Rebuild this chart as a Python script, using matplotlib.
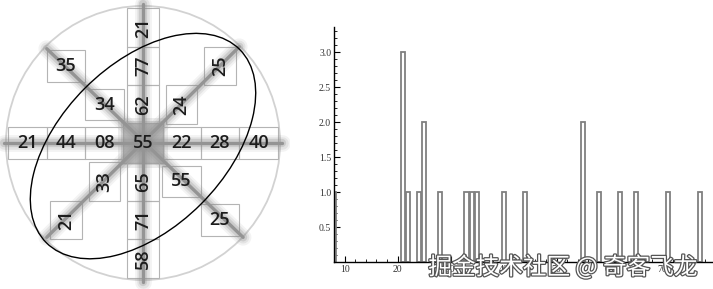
import matplotlib
matplotlib.use("Agg")
import matplotlib.pyplot as plt
import matplotlib.patheffects as pe
from matplotlib.patches import Rectangle, Circle, Ellipse
import numpy as np

# diagram numbers along each arm
ROW = ["21", "44", "08", "55", "22", "28", "40"]          # horizontal arm, left -> right
COL = ["58", "71", "65", None, "62", "77", "21"]          # vertical arm, bottom -> top (centre shared)
DIAG_DOWN_LABELS = ["35", "34", "55", "25"]               # NW -> SE, centre skipped
DIAG_DOWN_IDX = [-2, -1, 1, 2]
DIAG_UP_LABELS = ["21", "33", "24", "25"]                 # SW -> NE, centre skipped
DIAG_UP_IDX = [-2, -1, 1, 2]

# histogram of the diagram values
HIST_VALUES = [8, 21, 22, 24, 25, 28, 33, 34, 35, 40, 44, 55, 58, 62, 65, 71, 77]
HIST_COUNTS = [1, 3, 1, 1, 2, 1, 1, 1, 1, 1, 1, 2, 1, 1, 1, 1, 1]

fig = plt.figure(figsize=(7.13, 2.89), dpi=100)

# ---------------- left: cross diagram ----------------
ax = fig.add_axes([0, 0, 290 / 713, 1])
U = 38.5
ax.set_xlim(-143 / U, 147 / U)
ax.set_ylim(-146 / U, 143 / U)
ax.set_aspect("equal", adjustable="datalim")
ax.axis("off")

ax.add_patch(Circle((0, 0), 3.56, fill=False, ec="#d2d2d2", lw=1.3, zorder=1))

FONT = dict(family="Open Sans", fontsize=13, fontweight="semibold",
            color="#1c1c1c", ha="center", va="center", zorder=6)
SHORT = 0.83


def box(x, y, w, h):
    ax.add_patch(Rectangle((x - w / 2, y - h / 2), w, h, fill=False,
                           ec="#b4b4b4", lw=0.8, zorder=2))


# centre cell, soft grey
for s, a in [(1.3, 0.25), (1.15, 0.45)]:
    ax.add_patch(Rectangle((-s / 2, -s / 2), s, s, fc="#b0b0b0", ec="none",
                           alpha=a, zorder=2))
ax.add_patch(Rectangle((-0.52, -0.52), 1.04, 1.04, fc="#b4b4b4", ec="#a0a0a0",
                       lw=0.8, alpha=0.8, zorder=2))


# thick blurred arms
def arm(p0, p1):
    xs, ys = [p0[0], p1[0]], [p0[1], p1[1]]
    for lw, a in [(12, 0.10), (9, 0.15), (6, 0.25)]:
        ax.plot(xs, ys, color="#8a8a8a", lw=lw, alpha=a,
                solid_capstyle="round", zorder=3)
    ax.plot(xs, ys, color="#949494", lw=2.4, zorder=4, solid_capstyle="round")


arm((-3.6, 0), (3.6, 0))
arm((0, -3.6), (0, 3.6))
arm((-2.5, 2.45), (2.6, -2.45))
arm((-2.5, -2.45), (2.5, 2.5))

for i, lab in enumerate(ROW):
    x = i - 3
    if x != 0:
        box(x, 0, 1.0, SHORT)
    ax.text(x, 0, lab, **FONT)

for j, lab in enumerate(COL):
    y = j - 3
    if lab is None:
        continue
    box(0, y, SHORT, 1.0)
    ax.text(0, y, lab, rotation=90, **FONT)

for k, lab in zip(DIAG_DOWN_IDX, DIAG_DOWN_LABELS):
    box(k, -k, 1.0, SHORT)
    ax.text(k, -k, lab, **FONT)

for k, lab in zip(DIAG_UP_IDX, DIAG_UP_LABELS):
    box(k, k, SHORT, 1.0)
    ax.text(k, k, lab, rotation=90, **FONT)

ax.add_patch(Ellipse((0.0, -0.08), 2 * 3.55, 2 * 2.13, angle=45,
                     fill=False, ec="black", lw=1.0, zorder=7))

# ---------------- right: histogram ----------------
bx = fig.add_axes([334 / 713, 27 / 289, 379 / 713, 235 / 289])
bx.bar(HIST_VALUES, HIST_COUNTS, width=0.8, color="white",
       edgecolor="#808080", lw=1.3, zorder=2)
bx.set_xlim(8, 79.5)
bx.set_ylim(0, 3.36)
for s in ("top", "right"):
    bx.spines[s].set_visible(False)
for s in ("left", "bottom"):
    bx.spines[s].set_linewidth(1.0)
    bx.spines[s].set_zorder(3)
bx.set_xticks(np.arange(10, 80, 10))
bx.set_xticks(np.arange(8, 80, 2), minor=True)
bx.set_yticks(np.arange(0.5, 3.01, 0.5))
bx.set_yticks(np.arange(0.1, 3.31, 0.1), minor=True)
bx.set_yticklabels(["0.5", "1.0", "1.5", "2.0", "2.5", "3.0"])
bx.tick_params(which="major", direction="in", length=4, width=0.8,
               labelsize=7, labelcolor="#333333", pad=2)
bx.tick_params(which="minor", direction="in", length=2, width=0.6)
for t in bx.get_xticklabels() + bx.get_yticklabels():
    t.set_family("Liberation Serif")
bx.patch.set_alpha(0)

fig.text(563 / 713, 1 - 267 / 289, "掘金技术社区 @ 奇客飞龙",
         family=["Noto Sans CJK SC", "DejaVu Sans"], fontsize=17,
         color="white", ha="center", va="center",
         path_effects=[pe.withStroke(linewidth=1.8, foreground="#555555")])

fig.savefig("out.png", dpi=100)
